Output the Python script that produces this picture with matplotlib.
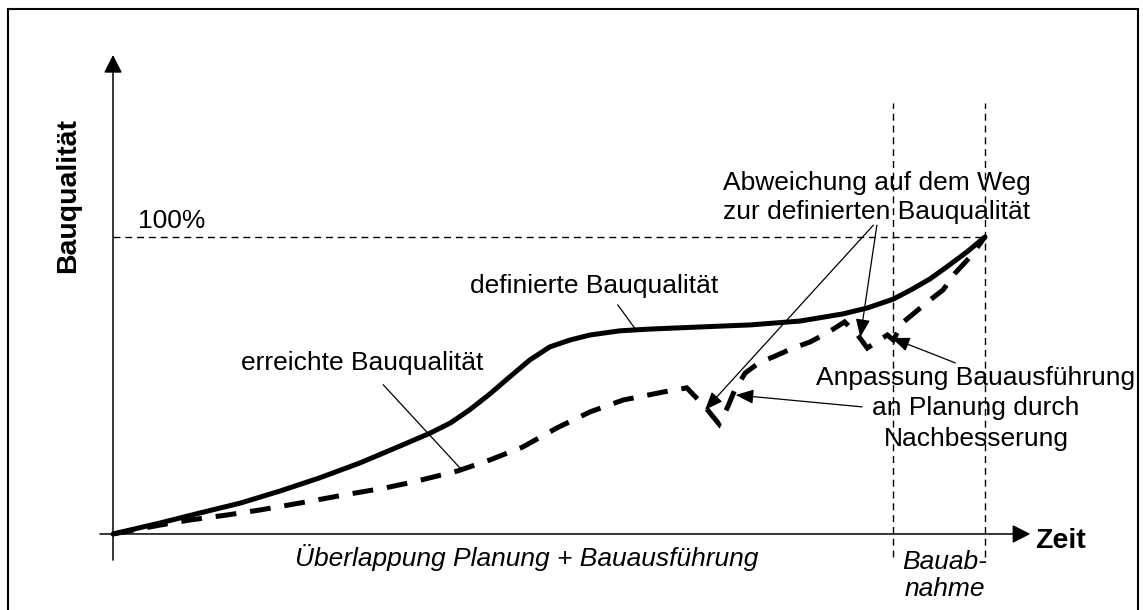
import matplotlib
matplotlib.use("Agg")
import matplotlib.pyplot as plt
from matplotlib.patches import Rectangle

plt.rcParams['font.family'] = ['Liberation Sans', 'DejaVu Sans']
plt.rcParams['lines.scale_dashes'] = False

# time in % of the project (0 = start, 100 = Bauabnahme end), quality in % of target
defined_t = [0, 5.4, 10, 14.6, 19.2, 23.7, 28.3, 32.9, 36.4, 38.7, 40.9, 43.2, 45.5,
             47.8, 50.1, 52.4, 54.7, 58.1, 61.6, 67.3, 73.1, 78.8, 83.7, 86.5,
             89.5, 91.7, 93.7, 95.6, 97.9, 100]
defined_q = [0, 3.7, 7.1, 10.4, 14.5, 18.9, 23.9, 29.6, 34, 37.4, 41.8, 47.1, 52.9,
             58.6, 63, 65.3, 67, 68.4, 69, 69.7, 70.4, 71.7, 74.1, 76.1,
             79.1, 82.5, 85.9, 89.9, 94.9, 100]

achieved_t = [0, 5.4, 8.8, 13.1, 16.9, 21.4, 27.2, 31.2, 34.4, 39.5, 43.2, 47, 50.9,
              54.7, 58.5, 63.1, 65.8, 67.9, 69.5, 70.5, 71.3, 72.5, 74.2, 75.7, 78,
              79.9, 81.9, 83.9, 85.4, 86.5, 88.8, 89.5, 90.5, 92.3, 93.7, 95.2, 96.6,
              98.3, 100]
achieved_q = [0, 3, 4.7, 6.4, 8.1, 10.4, 13.5, 15.5, 17.5, 21.2, 24.9, 29.3, 35.7,
              41.1, 45.1, 47.8, 49.2, 42.8, 37, 42.8, 48.5, 54.2, 57.9, 59.6, 62.6,
              64.6, 67.7, 71.4, 67, 62.6, 67, 65.3, 71, 75.4, 78.8, 82.2, 87.9,
              93.3, 100]

target_q = 100
acceptance_t = [89.45, 100]

label_defined = 'definierte Bauqualität'
label_achieved = 'erreichte Bauqualität'
label_dev = ['Abweichung auf dem Weg', 'zur definierten Bauqualität']
label_fix = ['Anpassung Bauausführung', 'an Planung durch', 'Nachbesserung']
label_overlap = 'Überlappung Planung + Bauausführung'
label_accept = ['Bauab-', 'nahme']

fig = plt.figure(figsize=(11.43, 6.10), dpi=100)
ax = fig.add_axes([0, 0, 1, 1])
ax.set_xlim(-12.96, 118.12)
ax.set_ylim(-25.6, 179.8)
ax.axis('off')

# frame
fig.add_artist(Rectangle((0.007, -0.02), 0.989, 1.005, fill=False, lw=1.5,
                         edgecolor='black', transform=fig.transFigure))

# axes with arrows
axis_arrow = dict(arrowstyle='-|>,head_length=0.55,head_width=0.28', lw=1.1,
                  color='black', shrinkA=0, shrinkB=0, mutation_scale=20)
ax.annotate('', xy=(0, 161.3), xytext=(0, -8.8), arrowprops=axis_arrow)
ax.annotate('', xy=(105.2, 0), xytext=(-1.5, 0), arrowprops=axis_arrow)

# reference lines
ax.plot([0, 100], [target_q, target_q], color='black', lw=1.0, dashes=(5, 3.5))
for t in acceptance_t:
    ax.plot([t, t], [-7.7, 145.1], color='black', lw=1.0, dashes=(5, 3.5))

# curves
ax.plot(defined_t, defined_q, color='black', lw=3.6, solid_joinstyle='round',
        solid_capstyle='round')
ax.plot(achieved_t, achieved_q, color='black', lw=3.6, dashes=(15, 10),
        dash_joinstyle='miter', dash_capstyle='butt')

# pointer lines
ax.plot([57.9, 59.9], [77.1, 69.0], color='black', lw=0.9)
ax.plot([31.0, 39.8], [50.2, 22.2], color='black', lw=0.9)

arrow = dict(arrowstyle='-|>,head_length=0.55,head_width=0.22', lw=0.9,
             color='black', shrinkA=0, shrinkB=0, mutation_scale=20)
ax.annotate('', xy=(67.9, 41.8), xytext=(87.2, 104.0), arrowprops=arrow)
ax.annotate('', xy=(85.7, 66.3), xytext=(87.6, 104.0), arrowprops=arrow)
ax.annotate('', xy=(89.3, 66.0), xytext=(96.6, 57.6), arrowprops=arrow)
ax.annotate('', xy=(71.4, 46.8), xytext=(85.9, 42.8), arrowprops=arrow)

fs = 19
ax.text(2.87, 103.0, '100%', fontsize=fs, ha='left', va='baseline')
ax.text(40.94, 81.1, label_defined, fontsize=fs, ha='left', va='baseline')
ax.text(42.43, 55.2, label_achieved, fontsize=fs, ha='right', va='baseline')
for txt, q in zip(label_dev, [115.8, 106.1]):
    ax.text(87.61, q, txt, fontsize=fs, ha='center', va='baseline')
for txt, q in zip(label_fix, [50.2, 40.1, 29.6]):
    ax.text(98.97, q, txt, fontsize=fs, ha='center', va='baseline')
ax.text(20.87, -10.8, label_overlap, fontsize=fs, style='italic',
        ha='left', va='baseline')
for txt, q in zip(label_accept, [-11.8, -20.9]):
    ax.text(95.41, q, txt, fontsize=fs, style='italic', ha='center', va='baseline')

ax.text(105.73, -4.7, 'Zeit', fontsize=20.5, fontweight='bold',
        ha='left', va='baseline')
ax.text(-5.16, 114.1, 'Bauqualität', fontsize=20.5, fontweight='bold',
        rotation=90, ha='center', va='center')

fig.savefig('out.png', dpi=100)
